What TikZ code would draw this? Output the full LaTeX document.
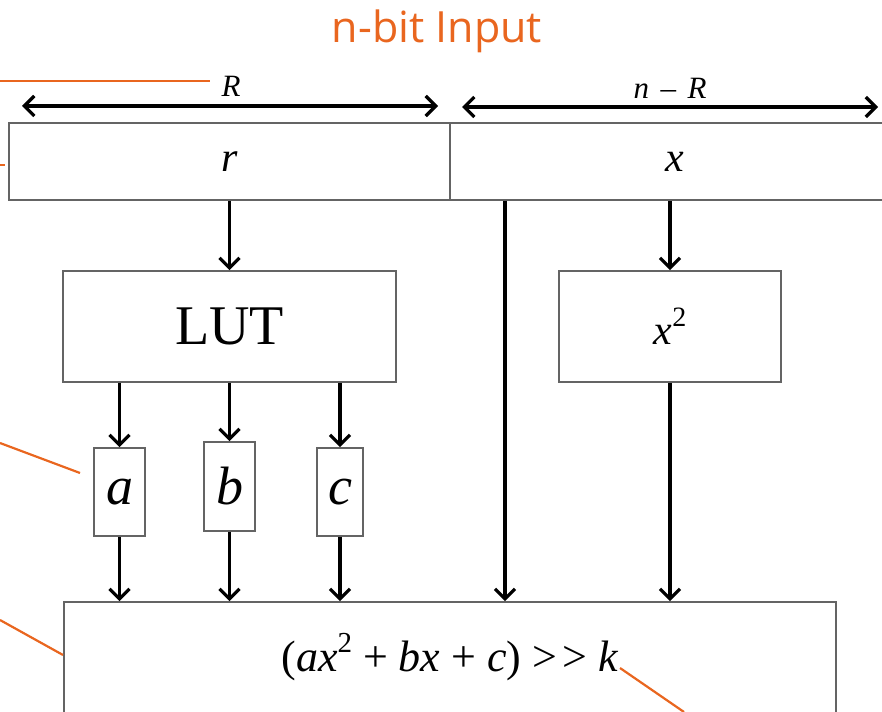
\documentclass[tikz,border=0pt]{standalone}
\usepackage{fontspec}
\setmainfont{Liberation Serif}
\newfontfamily\titlefont{Open Sans}
\usetikzlibrary{arrows.meta}
\definecolor{callout}{RGB}{233,102,31}
\definecolor{frame}{RGB}{100,100,100}
\tikzset{
  unit/.style={draw=frame, line width=1.8pt, fill=white, inner sep=0pt},
  flow/.style={line width=3.6pt, -{Straight Barb[length=10pt, width=20pt, line width=3.2pt]}},
  span/.style={line width=3.6pt, {Straight Barb[length=10pt, width=20pt, line width=3.2pt]}-{Straight Barb[length=10pt, width=20pt, line width=3.2pt]}},
  lead/.style={draw=callout, line width=2.2pt},
}
\newcommand{\shr}{\textgreater\kern0.12em\textgreater}
\begin{document}
\begin{tikzpicture}[x=1pt, y=-1pt]
\useasboundingbox (0,0) rectangle (882,711);
\clip (0,0) rectangle (882,711);

% title
\node[text=callout, font=\titlefont\fontsize{43}{46}\selectfont] (title) at (437,31) {n-bit Input};

% input word split into r and x
\node[unit, minimum width=441pt, minimum height=77pt, font=\fontsize{42}{46}\selectfont\itshape] (rbox) at (229.5,161.5) {r};
\node[unit, minimum width=450pt, minimum height=77pt, font=\fontsize{42}{46}\selectfont\itshape] (xbox) at (675,161.5) {x};

% width markers
\coordinate (rl) at (22,106);
\coordinate (rr) at (438,106);
\coordinate (nl) at (462,107);
\coordinate (nr) at (878,107);
\draw[span] (rl) -- (rr);
\draw[span] (nl) -- (nr);
\node[font=\fontsize{31}{34}\selectfont\itshape] (rlab) at (231,86) {R};
\node[font=\fontsize{31}{34}\selectfont] (nlab) at (670,88) {\textit{n}\kern0.12em{} – \kern0.12em\textit{R}};

% processing blocks
\node[unit, minimum width=333pt, minimum height=111pt, font=\fontsize{56}{60}\selectfont] (lut) at (229.5,326.5) {LUT};
\node[unit, minimum width=222pt, minimum height=111pt, font=\fontsize{42}{46}\selectfont] (sq) at (670,326.5) {\textit{x}\raisebox{0.42em}{\fontsize{28}{30}\selectfont 2}};

\node[unit, minimum width=51pt, minimum height=88pt, font=\fontsize{54}{58}\selectfont\itshape] (ca) at (119.5,492) {a};
\node[unit, minimum width=51pt, minimum height=89pt, font=\fontsize{54}{58}\selectfont\itshape] (cb) at (229.5,486.5) {b};
\node[unit, minimum width=46pt, minimum height=88pt, font=\fontsize{54}{58}\selectfont\itshape] (cc) at (340,492) {c};

\node[unit, minimum width=772pt, minimum height=138pt] (out) at (450,671) {};
\node[font=\fontsize{44}{48}\selectfont, anchor=base] (expr) at (450,671) {(\textit{ax}\raisebox{0.42em}{\fontsize{29}{30}\selectfont 2} + \textit{bx} + \textit{c}) \shr{} \textit{k}};

% data paths
\coordinate (tap) at (505,0);
\draw[flow] (rbox.south -| lut.north) -- (lut.north);
\draw[flow] (xbox.south -| sq.north) -- (sq.north);
\draw[flow] (xbox.south -| tap) -- (out.north -| tap);
\draw[flow] (lut.south -| ca.north) -- (ca.north);
\draw[flow] (lut.south -| cb.north) -- (cb.north);
\draw[flow] (lut.south -| cc.north) -- (cc.north);
\draw[flow] (ca.south) -- (out.north -| ca.south);
\draw[flow] (cb.south) -- (out.north -| cb.south);
\draw[flow] (cc.south) -- (out.north -| cc.south);
\draw[flow] (sq.south) -- (out.north -| sq.south);

% callout leaders
\coordinate (l1a) at (0,81);   \coordinate (l1b) at (210,81);
\coordinate (l2a) at (0,165);  \coordinate (l2b) at (5,165);
\coordinate (l3a) at (0,443);  \coordinate (l3b) at (80,473);
\coordinate (l4a) at (0,620);  \coordinate (l4b) at (63,655);
\coordinate (l5a) at (620,668); \coordinate (l5b) at (684,712);
\draw[lead] (l1a) -- (l1b);
\draw[lead] (l2a) -- (l2b);
\draw[lead] (l3a) -- (l3b);
\draw[lead] (l4a) -- (l4b);
\draw[lead] (l5a) -- (l5b);
\end{tikzpicture}
\end{document}
